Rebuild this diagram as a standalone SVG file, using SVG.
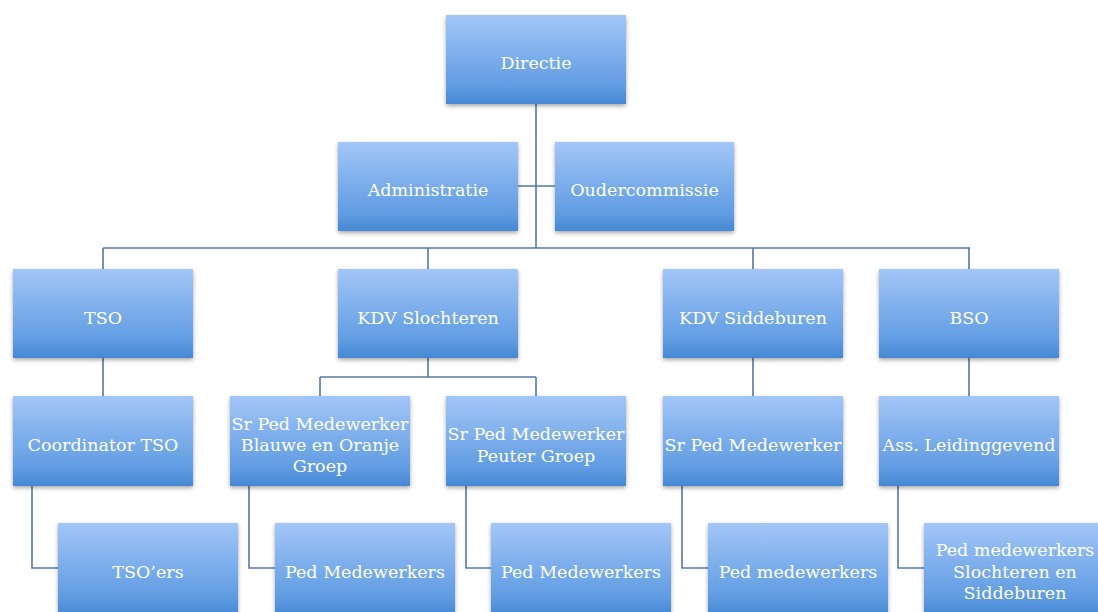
<svg xmlns="http://www.w3.org/2000/svg" width="1098" height="612" viewBox="0 0 1098 612">
<defs>
<linearGradient id="g" x1="0" y1="0" x2="0" y2="1">
<stop offset="0" stop-color="#a3c6f8"/>
<stop offset="0.8" stop-color="#609ce2"/>
<stop offset="1" stop-color="#4688d4"/>
</linearGradient>
<filter id="sh" x="-10%" y="-10%" width="120%" height="130%">
<feDropShadow dx="0" dy="2" stdDeviation="2" flood-color="#000" flood-opacity="0.35"/>
</filter>
</defs>
<style>
.n{fill:url(#g);filter:url(#sh)}
.t{fill:#fff;font-family:"DejaVu Serif","Liberation Serif",serif;font-size:17.5px;text-anchor:middle}
.c{fill:none;stroke:#5679a8;stroke-width:1.6}
</style>
<rect width="1098" height="612" fill="#fff"/>
<g id="connectors" class="c">
<path d="M536 104V248M518 186H555M103 248H970M103 248V269M428 248V269M753 248V269M969 248V269"/>
<path d="M103 358V396M428 358V377M320 377H536M320 377V396M536 377V396M753 358V396M969 358V396"/>
<path d="M32 486V568H58M249 486V568H275M466 486V568H491M682 486V568H708M898 486V568H924"/>
</g>
<g id="directie"><rect class="n" x="446" y="15" width="180" height="89"/><text class="t" x="536" y="69">Directie</text></g>
<g id="administratie"><rect class="n" x="338" y="142" width="180" height="89"/><text class="t" x="428" y="196">Administratie</text></g>
<g id="oudercommissie"><rect class="n" x="555" y="142" width="179" height="89"/><text class="t" x="644.5" y="196">Oudercommissie</text></g>
<g id="tso"><rect class="n" x="13" y="269" width="180" height="89"/><text class="t" x="103" y="324">TSO</text></g>
<g id="kdv-slochteren"><rect class="n" x="338" y="269" width="180" height="89"/><text class="t" x="428" y="324">KDV Slochteren</text></g>
<g id="kdv-siddeburen"><rect class="n" x="663" y="269" width="180" height="89"/><text class="t" x="753" y="324">KDV Siddeburen</text></g>
<g id="bso"><rect class="n" x="879" y="269" width="180" height="89"/><text class="t" x="969" y="324">BSO</text></g>
<g id="coordinator-tso"><rect class="n" x="13" y="396" width="180" height="90"/><text class="t" x="103" y="451">Coordinator TSO</text></g>
<g id="sr-ped-blauwe"><rect class="n" x="230" y="396" width="180" height="90"/><text class="t" x="320" y="430">Sr Ped Medewerker</text><text class="t" x="320" y="451">Blauwe en Oranje</text><text class="t" x="320" y="472">Groep</text></g>
<g id="sr-ped-peuter"><rect class="n" x="446" y="396" width="180" height="90"/><text class="t" x="536" y="440">Sr Ped Medewerker</text><text class="t" x="536" y="462">Peuter Groep</text></g>
<g id="sr-ped-medewerker"><rect class="n" x="663" y="396" width="180" height="90"/><text class="t" x="753" y="451">Sr Ped Medewerker</text></g>
<g id="ass-leidinggevend"><rect class="n" x="879" y="396" width="180" height="90"/><text class="t" x="969" y="451">Ass. Leidinggevend</text></g>
<g id="tsoers"><rect class="n" x="58" y="523" width="180" height="92"/><text class="t" x="148" y="578">TSO’ers</text></g>
<g id="ped-medewerkers-1"><rect class="n" x="275" y="523" width="180" height="92"/><text class="t" x="365" y="578">Ped Medewerkers</text></g>
<g id="ped-medewerkers-2"><rect class="n" x="491" y="523" width="180" height="92"/><text class="t" x="581" y="578">Ped Medewerkers</text></g>
<g id="ped-medewerkers-3"><rect class="n" x="708" y="523" width="180" height="92"/><text class="t" x="798" y="578">Ped medewerkers</text></g>
<g id="ped-medewerkers-4"><rect class="n" x="924" y="523" width="180" height="92"/><text class="t" x="1015" y="556">Ped medewerkers</text><text class="t" x="1015" y="578">Slochteren en</text><text class="t" x="1015" y="599">Siddeburen</text></g>
</svg>
